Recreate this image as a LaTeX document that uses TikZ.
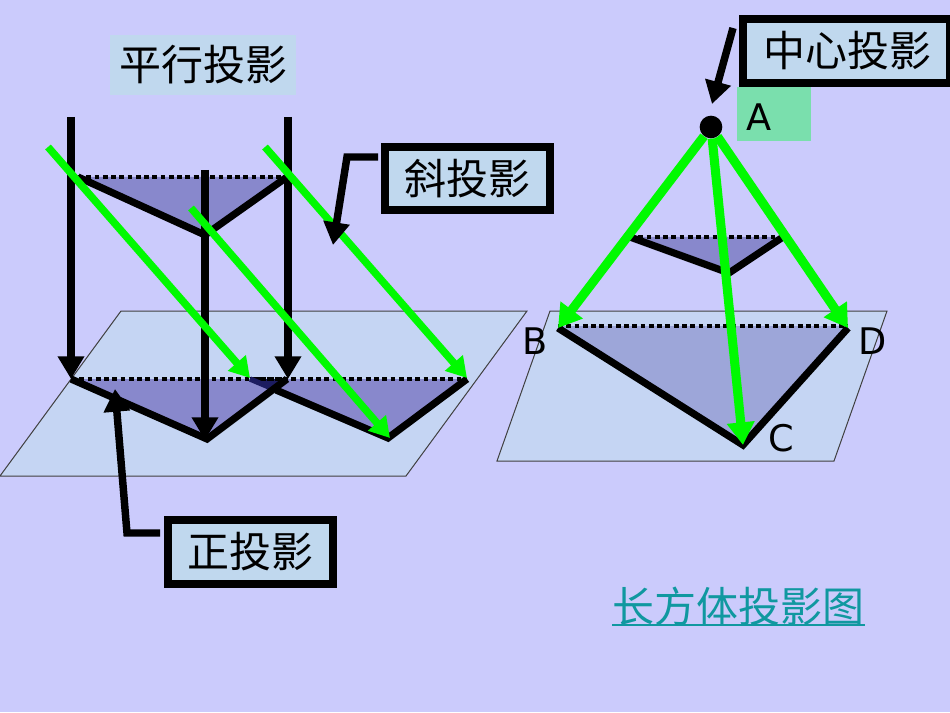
\documentclass[tikz,border=0pt]{standalone}
\usepackage{fontspec}
\setmainfont{DejaVu Sans}
\newfontfamily\cjk{Noto Sans CJK SC}
\usetikzlibrary{arrows.meta}
\definecolor{bgc}{HTML}{CBCBFC}
\definecolor{planec}{HTML}{C5D5F3}
\definecolor{boxc}{HTML}{C0D8EE}
\definecolor{trid}{HTML}{8888CC}
\definecolor{tril}{HTML}{9DA6D9}
\definecolor{greenl}{HTML}{00FA00}
\definecolor{agreen}{HTML}{7ADFAD}
\definecolor{linkc}{HTML}{1098A0}
\definecolor{navy}{HTML}{1C1C60}
\newcommand{\lowered}[1]{\raisebox{-1.5pt}{#1}}
\tikzset{
  x=0.75pt,y=-0.75pt,
  plane/.style={fill=planec,draw=black!75,line width=0.75pt},
  tri/.style={fill=trid},
  edge/.style={draw=black,line width=5.4pt,line join=miter},
  dots/.style={draw=black,line width=3.6pt,dash pattern=on 3.6pt off 2.6pt},
  blackarrow/.style={draw=black,line width=6.4pt,-{Triangle[length=17pt,width=19pt]}},
  pointer/.style={draw=black,line width=5.6pt,line join=miter,-{Triangle[length=17pt,width=19pt]}},
  greenarrow/.style={draw=greenl,line width=5.6pt,-{Triangle[length=15pt,width=17pt]}},
  greenarrowb/.style={draw=greenl,line width=6.8pt,-{Triangle[length=17pt,width=20pt]}},
  labelbox/.style={draw=black,line width=6pt,fill=boxc,font=\cjk\fontsize{31.5}{36}\selectfont,inner sep=0pt},
  letter/.style={font=\fontsize{27.5}{32}\selectfont,inner sep=0pt},
}
\begin{document}
\begin{tikzpicture}
\useasboundingbox (0,0) rectangle (950,713);
\fill[bgc] (0,0) rectangle (950,713);
\fill[white] (0,711.8) rectangle (950,713);
% planes
\draw[plane] (121,311) -- (527,311) -- (406,476) -- (0,476) -- cycle;
\draw[plane] (550,311) -- (887,311) -- (834,461) -- (497,461) -- cycle;
% named points
\coordinate (s1) at (71,117);   \coordinate (e1) at (71,379);
\coordinate (s2) at (288,117);  \coordinate (e2) at (288,379);
\coordinate (s3) at (205,170);  \coordinate (e3) at (205,440);
\coordinate (t1) at (78,177);   \coordinate (t2) at (287,177);  \coordinate (t3) at (205,235);
\coordinate (u1) at (71,379);   \coordinate (u2) at (287,379);  \coordinate (u3) at (207,439);
\coordinate (v1) at (250,379);  \coordinate (v2) at (467,379);  \coordinate (v3) at (388,438);
\coordinate (vx) at (276,390);
\coordinate (g1) at (48,147);   \coordinate (h1) at (250,378);
\coordinate (g2) at (265,147);  \coordinate (h2) at (467,378);
\coordinate (g3) at (191,208);  \coordinate (h3) at (390,438);
\coordinate (m1) at (630,237);  \coordinate (m2) at (783,237);  \coordinate (m3) at (729,273);
\coordinate (B) at (558,328);   \coordinate (D) at (848,328);   \coordinate (C) at (743,445);
\coordinate (Bt) at (558,326);  \coordinate (Dt) at (848,326);
% triangles
\fill[tri] (t1) -- (t2) -- (t3) -- cycle;
\fill[tri] (u1) -- (u2) -- (u3) -- cycle;
\fill[tri] (v1) -- (v2) -- (v3) -- cycle;
\fill[navy] (v1) -- (u2) -- (vx) -- cycle;
\fill[tri] (m1) -- (m2) -- (m3) -- cycle;
\fill[tril] (Bt) -- (Dt) -- (C) -- cycle;
% dotted tops
\draw[dots] (t1) -- (t2);
\draw[dots] (u1) -- (u2);
\draw[dots] (v1) -- (v2);
\draw[dots] (m1) -- (m2);
\draw[dots] (Bt) -- (Dt);
% solid edges
\draw[edge,navy,line width=4pt] (v1) -- (vx);
\draw[edge] (t1) -- (t3) -- (t2);
\draw[edge] (vx) -- (v3) -- (v2);
\draw[edge] (u1) -- (u3) -- (u2);
\draw[edge] (m1) -- (m3) -- (m2);
\draw[edge] (B) -- (C) -- (D);
% vertical arrows
\draw[blackarrow] (s1) -- (e1);
\draw[blackarrow] (s2) -- (e2);
\draw[blackarrow] (s3) -- (e3);
% oblique arrows
\draw[greenarrow] (g1) -- (h1);
\draw[greenarrow] (g2) -- (h2);
\draw[greenarrow] (g3) -- (h3);
% labels
\node[fill=boxc,minimum width=139.5pt,minimum height=45pt,inner sep=0pt,font=\cjk\fontsize{31.5}{36}\selectfont] (parallel) at (203,65) {\lowered{平行投影}};
\node[fill=agreen,minimum width=55.5pt,minimum height=40.5pt,inner sep=0pt] (abox) at (774,114) {};
\node[labelbox,minimum width=155pt,minimum height=48pt] (center) at (846.5,51) {\lowered{\hspace{2pt}中心投影}};
\node[labelbox,minimum width=123.75pt,minimum height=47.5pt] (oblique) at (467,178.5) {\lowered{斜投影}};
\node[labelbox,minimum width=123.75pt,minimum height=48pt] (ortho) at (250.5,552) {\lowered{正投影}};
\node[letter] (lA) at (759,117) {A};
\node[circle,fill=black,minimum size=17pt,inner sep=0pt] (dotA) at (711,127) {};
\node[letter] (lB) at (535,341) {B};
\node[letter] (lD) at (873,341) {D};
\node[letter] (lC) at (781,438) {C};
% pointers
\coordinate (p1a) at (378,157); \coordinate (p1b) at (347,157); \coordinate (p1c) at (333,245);
\coordinate (p2a) at (160,533); \coordinate (p2b) at (127,533); \coordinate (p2c) at (115,389);
\coordinate (p3a) at (733,28);  \coordinate (p3c) at (712,104);
\draw[pointer] (p1a) -- (p1b) -- (p1c);
\draw[pointer] (p2a) -- (p2b) -- (p2c);
\draw[pointer] (p3a) -- (p3c);
% central arrows
\draw[greenarrowb] (dotA) -- (B);
\draw[greenarrowb] (dotA) -- (C);
\draw[greenarrowb] (dotA) -- (D);
% title link
\node[text=linkc,inner sep=0pt,font=\cjk\fontsize{31.5}{36}\selectfont] (link) at (738,606) {长方体投影图};
\draw[linkc,line width=1.5pt] (612,625) -- (865,625);
\end{tikzpicture}
\end{document}
